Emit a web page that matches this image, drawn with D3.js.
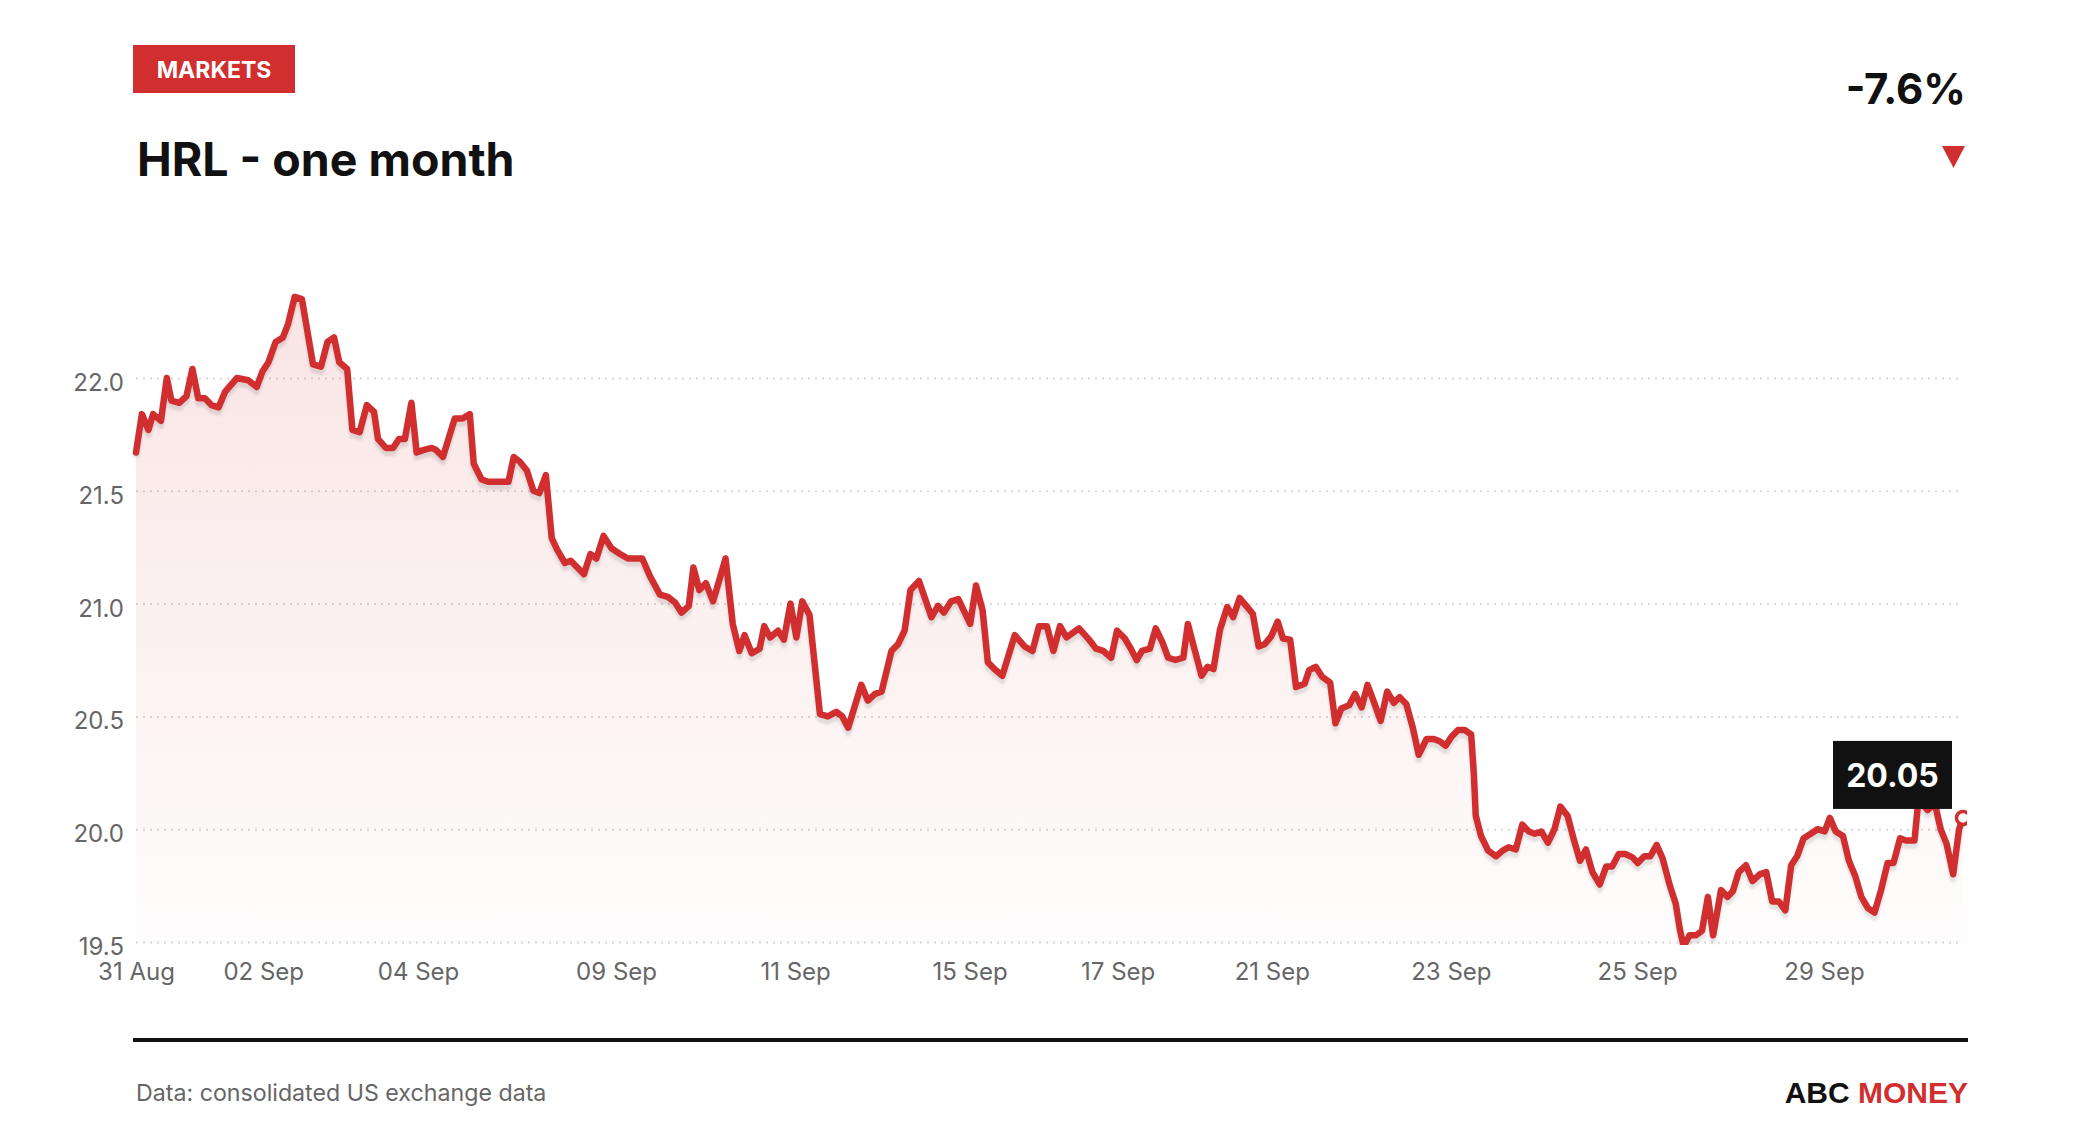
<!DOCTYPE html>
<html>
<head>
<meta charset="utf-8">
<script src="https://cdn.jsdelivr.net/npm/d3@7"></script>
<style>
  body { margin: 0; background: #fff; }
  text { font-family: Inter, "Noto Sans", sans-serif; }
</style>
</head>
<body>
<script>
// position of each reading along the session axis (point index) and the price
var pos = [0.0, 0.9, 1.9, 2.6, 3.8, 4.7, 5.4, 6.6, 7.7, 8.6, 9.5, 10.5, 11.5, 12.6, 13.6, 15.4, 17.1, 18.4, 19.3, 20.2,
  21.3, 22.4, 23.2, 24.2, 25.3, 27.0, 28.2, 29.2, 30.2, 31.0, 32.2, 33.0, 34.1, 35.2, 36.3, 36.9, 38.1, 39.2, 40.1, 41.0,
  42.0, 42.8, 43.8, 45.1, 45.8, 46.8, 48.6, 49.8, 50.9, 51.5, 52.7, 53.7, 56.8, 57.6, 58.5, 59.6, 60.6, 61.5, 62.5, 63.4,
  64.2, 65.4, 66.3, 67.3, 68.3, 69.3, 70.2, 71.3, 72.5, 73.8, 75.0, 77.2, 78.4, 79.9, 81.1, 82.2, 83.2, 84.3, 85.0, 85.9,
  86.9, 88.0, 89.9, 91.0, 92.0, 92.8, 93.9, 95.1, 95.8, 96.7, 97.9, 98.8, 99.8, 100.7, 101.6, 102.7, 104.3, 105.5, 106.8, 107.7,
  108.6, 110.6, 111.6, 112.7, 113.7, 115.2, 116.2, 117.2, 118.1, 119.4, 121.3, 122.3, 123.2, 124.3, 125.4, 127.2, 128.1, 129.1, 129.9, 130.9,
  132.1, 134.0, 135.5, 136.7, 137.7, 138.9, 139.9, 140.9, 141.9, 143.8, 145.2, 146.4, 147.5, 148.7, 149.6, 150.8, 151.7, 152.6, 153.4, 154.6,
  155.5, 156.5, 157.4, 158.5, 159.7, 160.4, 161.3, 162.5, 163.4, 164.3, 165.3, 166.4, 167.3, 168.3, 169.3, 170.3, 171.2, 172.1, 173.1, 174.1,
  174.9, 176.0, 176.9, 178.2, 178.9, 179.9, 180.9, 182.1, 182.9, 183.8, 185.0, 185.9, 186.9, 187.8, 188.7, 189.8, 190.8, 191.8, 192.7, 193.7,
  194.7, 195.6, 196.8, 197.9, 198.8, 199.7, 200.6, 201.6, 202.6, 203.6, 204.0, 204.3, 205.1, 206.2, 207.4, 208.4, 209.3, 210.4, 211.4, 212.4,
  213.3, 214.3, 215.3, 216.3, 217.2, 218.3, 219.2, 220.2, 221.1, 222.1, 223.2, 224.2, 225.1, 226.1, 227.1, 228.2, 229.0, 230.0, 230.9, 231.9,
  232.8, 233.9, 234.8, 235.4, 236.0, 236.9, 237.9, 238.8, 239.7, 240.5, 241.7, 242.7, 243.5, 244.4, 245.5, 246.5, 247.6, 248.6, 249.5, 250.5,
  251.5, 252.4, 253.3, 254.3, 255.4, 256.4, 257.5, 258.3, 259.2, 260.3, 261.2, 262.2, 263.1, 264.1, 265.1, 266.1, 267.1, 268.0, 269.0, 269.9,
  271.2, 271.8, 273.2, 274.3, 275.2, 276.1, 277.1, 278.0, 278.6];

var price = [21.67, 21.84, 21.77, 21.84, 21.81, 22.00, 21.90, 21.89, 21.92, 22.04, 21.91, 21.91, 21.88, 21.87, 21.94, 22.00, 21.99, 21.96, 22.03, 22.07,
  22.16, 22.18, 22.24, 22.36, 22.35, 22.06, 22.05, 22.16, 22.18, 22.07, 22.04, 21.77, 21.76, 21.88, 21.85, 21.73, 21.69, 21.69, 21.73, 21.73,
  21.89, 21.67, 21.68, 21.69, 21.68, 21.65, 21.82, 21.82, 21.84, 21.62, 21.55, 21.54, 21.54, 21.65, 21.63, 21.59, 21.50, 21.49, 21.57, 21.29,
  21.24, 21.18, 21.19, 21.16, 21.13, 21.22, 21.20, 21.30, 21.245, 21.22, 21.20, 21.20, 21.12, 21.04, 21.03, 21.005, 20.96, 20.99, 21.16, 21.06,
  21.09, 21.01, 21.20, 20.91, 20.79, 20.86, 20.78, 20.80, 20.90, 20.85, 20.88, 20.84, 21.00, 20.85, 21.01, 20.95, 20.51, 20.50, 20.52, 20.50,
  20.45, 20.64, 20.57, 20.60, 20.61, 20.79, 20.82, 20.88, 21.06, 21.10, 20.94, 20.99, 20.96, 21.01, 21.02, 20.91, 21.08, 20.97, 20.74, 20.71,
  20.68, 20.86, 20.81, 20.79, 20.90, 20.90, 20.79, 20.90, 20.85, 20.89, 20.845, 20.80, 20.79, 20.76, 20.88, 20.845, 20.80, 20.75, 20.79, 20.80,
  20.89, 20.83, 20.76, 20.75, 20.76, 20.91, 20.81, 20.68, 20.72, 20.71, 20.885, 20.985, 20.94, 21.025, 20.99, 20.955, 20.81, 20.82, 20.855, 20.92,
  20.845, 20.84, 20.63, 20.645, 20.705, 20.72, 20.675, 20.65, 20.47, 20.535, 20.55, 20.60, 20.54, 20.64, 20.57, 20.48, 20.61, 20.56, 20.585, 20.555,
  20.45, 20.33, 20.40, 20.40, 20.39, 20.37, 20.41, 20.44, 20.44, 20.42, 20.25, 20.06, 19.97, 19.905, 19.88, 19.905, 19.92, 19.91, 20.02, 19.99,
  19.98, 19.99, 19.94, 20.00, 20.10, 20.06, 19.96, 19.86, 19.91, 19.81, 19.755, 19.835, 19.835, 19.89, 19.89, 19.875, 19.85, 19.88, 19.88, 19.93,
  19.87, 19.75, 19.67, 19.56, 19.48, 19.53, 19.53, 19.55, 19.70, 19.53, 19.73, 19.70, 19.725, 19.81, 19.84, 19.77, 19.80, 19.81, 19.68, 19.68,
  19.64, 19.84, 19.88, 19.96, 19.98, 20.00, 19.99, 20.05, 19.99, 19.97, 19.86, 19.79, 19.70, 19.65, 19.63, 19.73, 19.85, 19.85, 19.96, 19.95,
  19.95, 20.13, 20.085, 20.115, 20.00, 19.935, 19.80, 20.00, 20.05];

// x axis: where each date label sits along the point index
var tickPos = [0, 19.4, 43.0, 73.2, 100.5, 127.1, 149.7, 173.2, 200.5, 228.9, 257.4];
var tickLabels = ["31 Aug", "02 Sep", "04 Sep", "09 Sep", "11 Sep", "15 Sep", "17 Sep", "21 Sep", "23 Sep", "25 Sep", "29 Sep"];
var yTicks = [19.5, 20.0, 20.5, 21.0, 21.5, 22.0];

var title = "HRL - one month";
var change = "-7.6%";
var red = "#d12f2f";

var W = 2080, H = 1140;
var plot = {left: 136, right: 1963, top: 250, bottom: 942};

var data = pos.map(function(p, i) { return {t: p, v: price[i]}; });

var svg = d3.select("body").append("svg")
  .attr("width", W)
  .attr("height", H);

var x = d3.scaleLinear().domain([0, d3.max(pos)]).range([plot.left, plot.right]);
var y = d3.scaleLinear().domain([19.5, 22.0]).range([plot.bottom, 378]);

var defs = svg.append("defs");
var grad = defs.append("linearGradient")
  .attr("id", "areaGrad")
  .attr("gradientUnits", "userSpaceOnUse")
  .attr("x1", 0).attr("x2", 0)
  .attr("y1", y(22.36)).attr("y2", plot.bottom + 3);
grad.append("stop").attr("offset", "0%").attr("stop-color", red).attr("stop-opacity", 0.13);
grad.append("stop").attr("offset", "100%").attr("stop-color", red).attr("stop-opacity", 0.01);

defs.append("clipPath").attr("id", "plotClip")
  .append("rect")
  .attr("x", plot.left - 6).attr("y", plot.top)
  .attr("width", plot.right - plot.left + 10)
  .attr("height", plot.bottom + 3 - plot.top);

defs.append("filter").attr("id", "soft")
  .append("feGaussianBlur").attr("stdDeviation", 1.2);

// grid + y labels
var yAxis = d3.axisLeft(y)
  .tickValues(yTicks)
  .tickFormat(d3.format(".1f"))
  .tickSize(-(plot.right - plot.left))
  .tickPadding(12);

var gy = svg.append("g")
  .attr("transform", "translate(" + plot.left + ",0)")
  .call(yAxis);
gy.select(".domain").remove();
gy.selectAll(".tick line")
  .attr("stroke", "#d9d9d9")
  .attr("stroke-width", 2)
  .attr("stroke-dasharray", "2 5");
gy.selectAll(".tick text")
  .attr("fill", "#666")
  .attr("dy", "0.52em")
  .style("font-size", "24px")
  .style("font-family", "Inter, 'Noto Sans', sans-serif");

// x labels
var xAxis = d3.axisBottom(x)
  .tickValues(tickPos)
  .tickFormat(function(d, i) { return tickLabels[i]; })
  .tickSize(0)
  .tickPadding(21);

var gx = svg.append("g")
  .attr("transform", "translate(0," + plot.bottom + ")")
  .call(xAxis);
gx.select(".domain").remove();
gx.selectAll(".tick text")
  .attr("fill", "#666")
  .style("font-size", "24px")
  .style("font-family", "Inter, 'Noto Sans', sans-serif");

// area, shadow and line
var chart = svg.append("g").attr("clip-path", "url(#plotClip)");

var area = d3.area()
  .x(function(d) { return x(d.t); })
  .y0(plot.bottom + 3)
  .y1(function(d) { return y(d.v); });

var line = d3.line()
  .x(function(d) { return x(d.t); })
  .y(function(d) { return y(d.v); });

chart.append("path")
  .datum(data)
  .attr("d", area)
  .attr("fill", "url(#areaGrad)");

chart.append("path")
  .datum(data)
  .attr("d", line)
  .attr("transform", "translate(0,5)")
  .attr("fill", "none")
  .attr("stroke", "#000")
  .attr("stroke-opacity", 0.1)
  .attr("stroke-width", 6.5)
  .attr("stroke-linejoin", "round")
  .attr("filter", "url(#soft)");

chart.append("path")
  .datum(data)
  .attr("d", line)
  .attr("fill", "none")
  .attr("stroke", red)
  .attr("stroke-width", 6.5)
  .attr("stroke-linejoin", "round")
  .attr("stroke-linecap", "round");

var last = data[data.length - 1];
var px = x(last.t), py = y(last.v);

chart.append("circle")
  .attr("cx", px).attr("cy", py)
  .attr("r", 6.5)
  .attr("fill", "#fff")
  .attr("stroke", red)
  .attr("stroke-width", 3.5);

// last value tag
svg.append("rect")
  .attr("x", px - 130).attr("y", py - 77)
  .attr("width", 119).attr("height", 68)
  .attr("fill", "#111");
svg.append("text")
  .attr("x", px - 70.5).attr("y", py - 31)
  .attr("text-anchor", "middle")
  .attr("fill", "#fff")
  .style("font-size", "32px")
  .style("font-weight", 700)
  .text(last.v.toFixed(2));

// header
svg.append("rect")
  .attr("x", 133).attr("y", 45)
  .attr("width", 162).attr("height", 48)
  .attr("fill", red);
svg.append("text")
  .attr("x", 214).attr("y", 77.5)
  .attr("text-anchor", "middle")
  .attr("fill", "#fff")
  .style("font-size", "23px")
  .style("font-weight", 700)
  .text("MARKETS");

svg.append("text")
  .attr("x", 137).attr("y", 176)
  .attr("fill", "#111")
  .style("font-size", "46.5px")
  .style("font-weight", 700)
  .text(title);

svg.append("text")
  .attr("x", 1966).attr("y", 103.5)
  .attr("text-anchor", "end")
  .attr("fill", "#111")
  .style("font-size", "42px")
  .style("font-weight", 700)
  .text(change);

svg.append("path")
  .attr("d", "M1942,146 L1965,146 L1953.5,168 Z")
  .attr("fill", red);

// footer
svg.append("line")
  .attr("x1", 133).attr("x2", 1968)
  .attr("y1", 1040).attr("y2", 1040)
  .attr("stroke", "#111")
  .attr("stroke-width", 4);

svg.append("text")
  .attr("x", 136).attr("y", 1101)
  .attr("fill", "#666")
  .style("font-size", "23.2px")
  .text("Data: consolidated US exchange data");

var brand = svg.append("text")
  .attr("x", 1968).attr("y", 1102.5)
  .attr("text-anchor", "end")
  .style("font-family", "'Liberation Sans', Arial, sans-serif")
  .style("font-size", "30px")
  .style("font-weight", 700);
brand.append("tspan").attr("fill", "#111").text("ABC ");
brand.append("tspan").attr("fill", red).text("MONEY");
</script>
</body>
</html>
